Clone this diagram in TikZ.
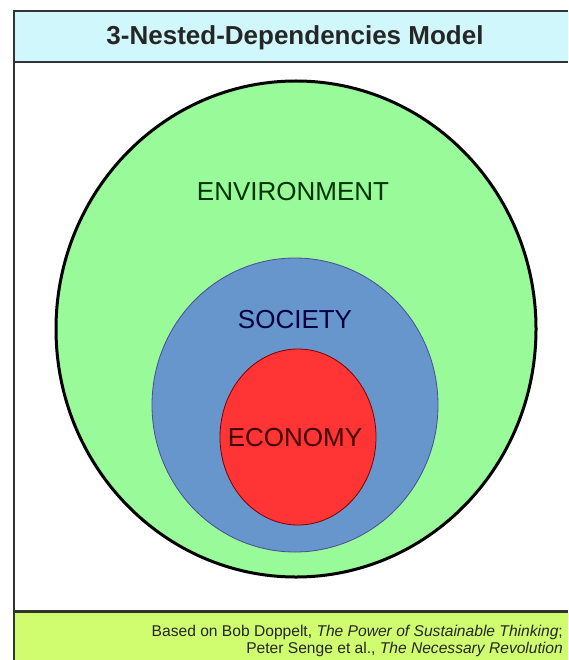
\documentclass[tikz,border=0pt]{standalone}
\usepackage{fontspec}
\setmainfont{Liberation Sans}
\definecolor{headcyan}{RGB}{208,248,252}
\definecolor{footlime}{RGB}{208,252,112}
\definecolor{envgreen}{RGB}{152,250,152}
\definecolor{socblue}{RGB}{102,150,204}
\definecolor{ecored}{RGB}{255,52,52}
\tikzset{
    ringlabel/.style={font=\fontsize{26}{30}\selectfont, inner sep=0pt},
    frameline/.style={draw=black!80}
}
\begin{document}
\begin{tikzpicture}[x=1pt,y=-1pt]
    \useasboundingbox (0,0) rectangle (568,660);
    % panels
    \fill[headcyan] (14,11) rectangle (568,62);
    \fill[footlime] (14,611) rectangle (568,660);
    \draw[frameline, line width=2.5pt] (568,11) -- (14,11) -- (14,660);
    \draw[frameline, line width=2pt] (14,62) -- (568,62);
    \draw[frameline, line width=3pt] (14,611) -- (568,611);
    \node[font=\bfseries\fontsize{26}{30}\selectfont, text=black!85] (title) at (295,38) {3-Nested-Dependencies Model};
    % nested rings
    \draw[fill=envgreen, line width=3pt] (296,329) ellipse (240 and 248);
    \draw[fill=socblue, draw=blue!40!black!70, line width=0.8pt] (295,405) ellipse (143 and 147);
    \draw[fill=ecored, draw=red!50!black, line width=0.8pt] (298,437) ellipse (78 and 88);
    \node[ringlabel, text=green!20!black] (environment) at (293,192) {ENVIRONMENT};
    \node[ringlabel, text=blue!25!black] (society) at (295,320) {SOCIETY};
    \node[ringlabel, text=red!25!black] (economy) at (295,438) {ECONOMY};
    % source
    \node[anchor=east, align=right, inner sep=0pt, text=black!85,
          font=\fontsize{15.6}{17}\selectfont] (source) at (563,641)
        {Based on Bob Doppelt, \textit{The Power of Sustainable Thinking};\\
         Peter Senge et al., \textit{The Necessary Revolution}};
\end{tikzpicture}
\end{document}
